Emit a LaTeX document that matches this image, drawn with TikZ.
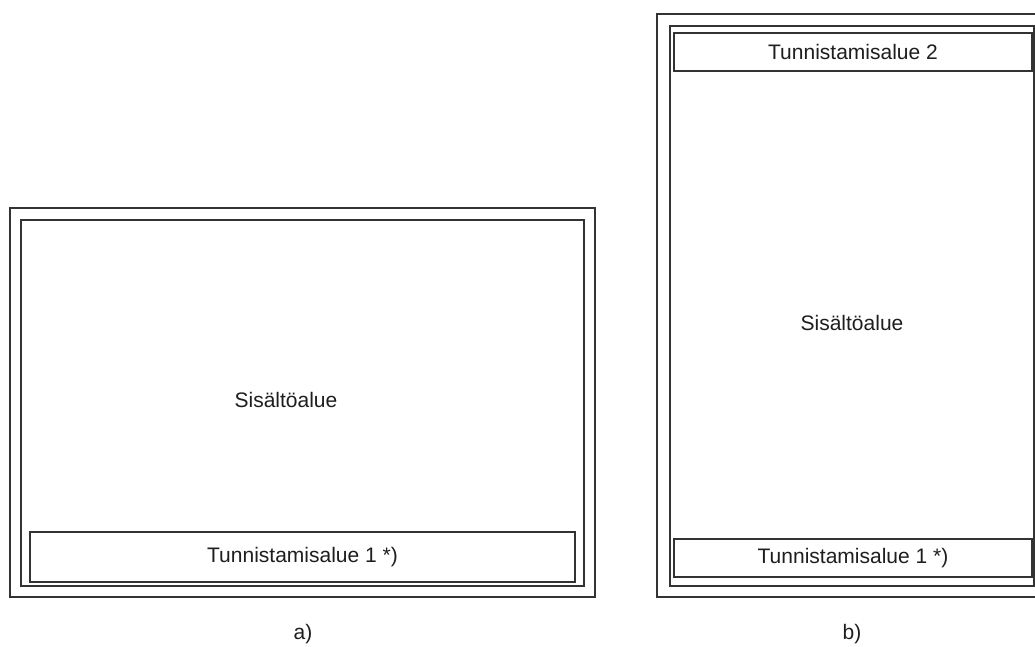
\documentclass[tikz,border=0pt]{standalone}
\usepackage{fontspec}
\setmainfont{Liberation Sans}
\definecolor{linec}{HTML}{333333}
\definecolor{textc}{HTML}{1E1E1E}
\tikzset{
  frame/.style={draw=linec, line width=2pt, inner sep=0pt, outer sep=0pt, anchor=north west},
  lbl/.style={text=textc, inner sep=0pt, font=\fontsize{21}{25}\selectfont}
}
\begin{document}
\begin{tikzpicture}[x=1pt, y=-1pt]
  \clip (0,0) rectangle (1035,646);
  \fill[white] (0,0) rectangle (1035,646);

  % layout a): content area above one identification strip
  \node[frame, minimum width=585pt, minimum height=389pt] (aout) at (10,208) {};
  \node[frame, minimum width=563pt, minimum height=366pt] (ain) at (21,220) {};
  \node[frame, minimum width=545pt, minimum height=50pt] (aid) at (30,532) {};
  \node[lbl] (atxt) at (286,400) {Sisältöalue};
  \node[lbl] (aidtxt) at (aid.center) {Tunnistamisalue 1 *)};
  \node[lbl] (acap) at (303,634) {a)};

  % layout b): identification strips at top and bottom
  \node[frame, minimum width=390pt, minimum height=583pt] (bout) at (657,14) {};
  \node[frame, minimum width=364pt, minimum height=560pt] (bin) at (670,26) {};
  \node[frame, minimum width=358pt, minimum height=38pt] (bid2) at (674,33) {};
  \node[frame, minimum width=358pt, minimum height=38pt] (bid1) at (674,539) {};
  \node[lbl] (bid2txt) at (bid2.center) {Tunnistamisalue 2};
  \node[lbl] (btxt) at (852,323) {Sisältöalue};
  \node[lbl] (bid1txt) at (bid1.center) {Tunnistamisalue 1 *)};
  \node[lbl] (bcap) at (852,634) {b)};
\end{tikzpicture}
\end{document}
